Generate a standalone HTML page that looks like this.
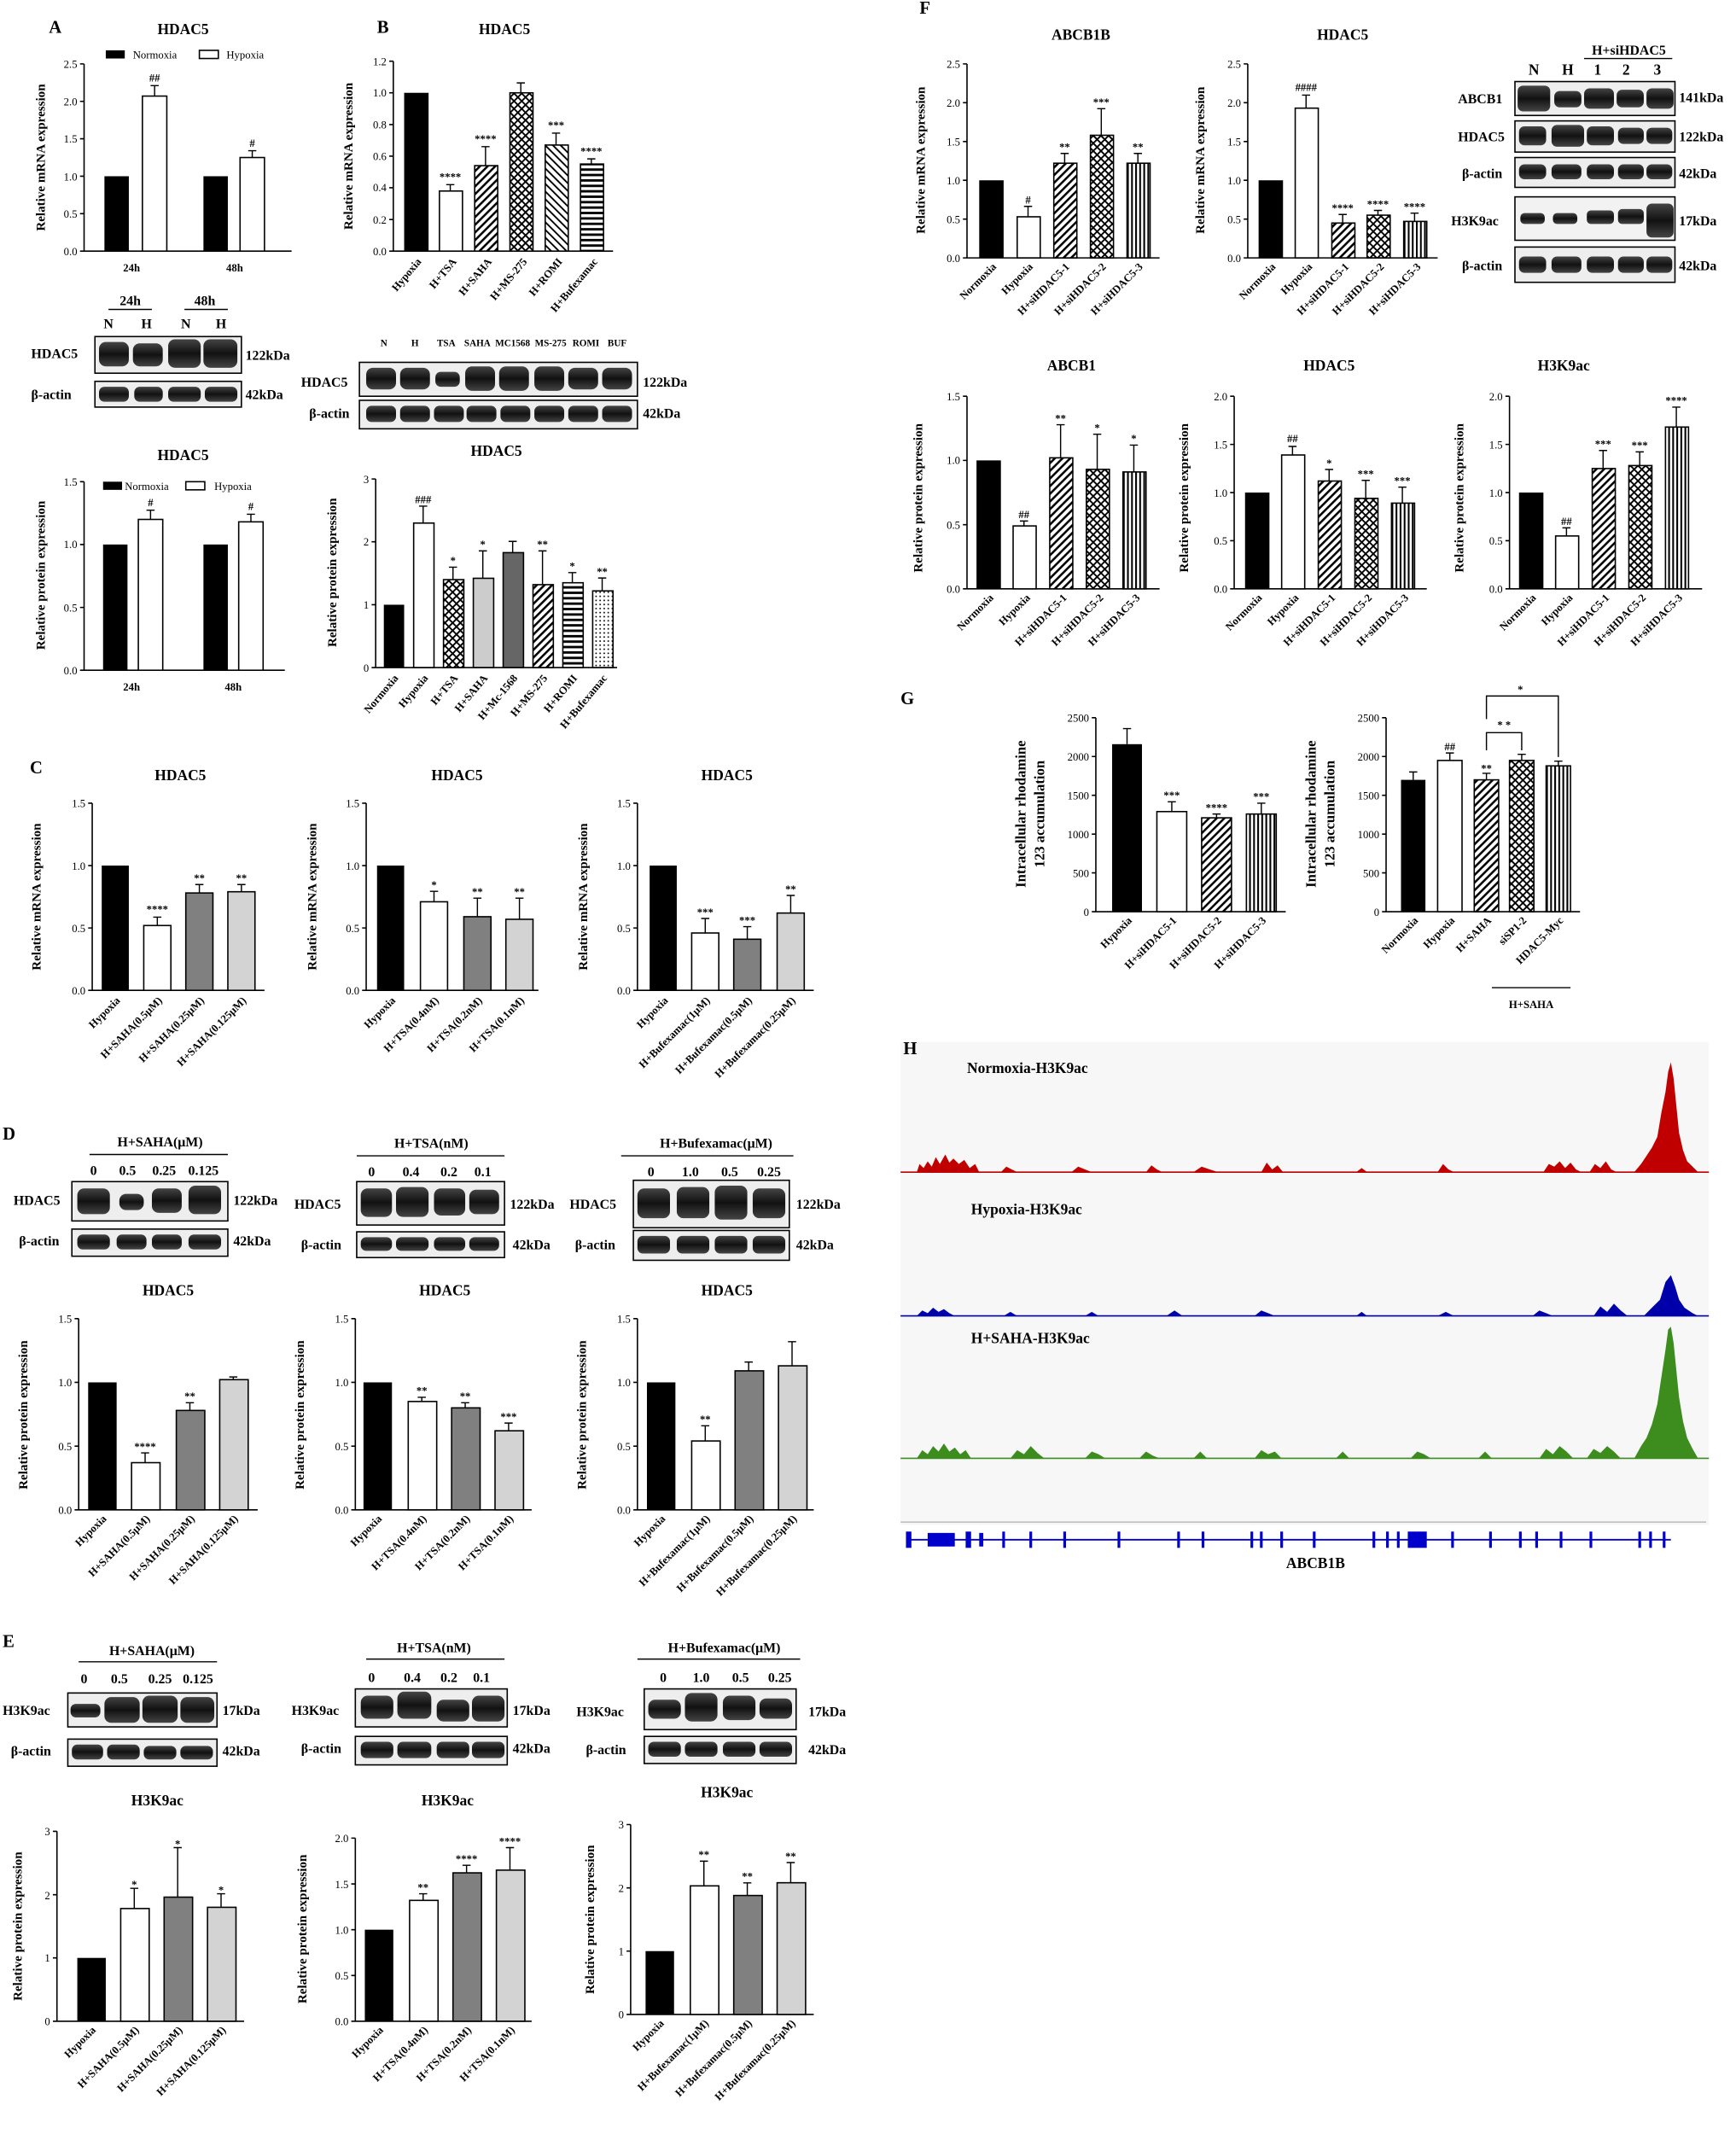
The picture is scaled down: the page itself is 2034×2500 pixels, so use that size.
<!DOCTYPE html>
<html><head><meta charset="utf-8"><style>
html,body{margin:0;padding:0;background:#fff}
svg{display:block}
text{font-family:"Liberation Serif",serif;fill:#000}
.t{font-weight:bold;font-size:11px;text-anchor:middle}
.k{font-size:8px;text-anchor:end}
.yl{font-weight:bold;font-size:9.5px;text-anchor:middle}
.xl{font-weight:bold;font-size:8px;text-anchor:end}
.L{font-weight:bold;font-size:13px}
.s{font-weight:bold;font-size:8px;text-anchor:middle}
.bl{font-weight:bold;font-size:10px}
.ax{stroke:#000;stroke-width:1;fill:none}
.b{stroke:#000;stroke-width:1}
.e{stroke:#000;stroke-width:0.9;fill:none}
</style></head><body>
<svg width="2034" height="2500" viewBox="0 0 1280 1573" xmlns="http://www.w3.org/2000/svg">
<defs>
<pattern id="hd" width="4" height="4" patternUnits="userSpaceOnUse" patternTransform="rotate(45)"><rect width="4" height="4" fill="#fff"/><rect width="1.6" height="4" fill="#000"/></pattern>
<pattern id="hx" width="4" height="4" patternUnits="userSpaceOnUse" patternTransform="rotate(45)"><rect width="4" height="4" fill="#fff"/><rect width="1.2" height="4" fill="#000"/><rect width="4" height="1.2" fill="#000"/></pattern>
<pattern id="hh" width="4" height="4" patternUnits="userSpaceOnUse"><rect width="4" height="4" fill="#fff"/><rect width="4" height="1.8" fill="#000"/></pattern>
<pattern id="hv" width="3" height="3" patternUnits="userSpaceOnUse"><rect width="3" height="3" fill="#fff"/><rect width="1.3" height="3" fill="#000"/></pattern>
<pattern id="hr" width="4" height="4" patternUnits="userSpaceOnUse" patternTransform="rotate(-45)"><rect width="4" height="4" fill="#fff"/><rect width="1.2" height="4" fill="#000"/></pattern>
<pattern id="dt" width="3" height="3" patternUnits="userSpaceOnUse"><rect width="3" height="3" fill="#fff"/><circle cx="1.5" cy="1.5" r="0.6" fill="#000"/></pattern>
<linearGradient id="band" x1="0" x2="0" y1="0" y2="1"><stop offset="0" stop-color="#444"/><stop offset="0.5" stop-color="#111"/><stop offset="1" stop-color="#444"/></linearGradient>
</defs>
<rect width="1280" height="1573" fill="#fff"/>

<!-- ================= A ================= -->
<text x="36" y="24" class="L">A</text>
<text x="135" y="25" class="t">HDAC5</text>
<rect x="78" y="37" width="14" height="6" fill="#000"/><text x="98" y="43" style="font-size:8px">Normoxia</text>
<rect x="147" y="37" width="14" height="6" fill="#fff" class="b"/><text x="167" y="43" style="font-size:8px">Hypoxia</text>
<path class="ax" d="M62 47V185H215M59 47H62M59 74.6H62M59 102.2H62M59 129.8H62M59 157.4H62M59 185H62"/>
<g class="k"><text x="57" y="50">2.5</text><text x="57" y="77.6">2.0</text><text x="57" y="105">1.5</text><text x="57" y="133">1.0</text><text x="57" y="160.4">0.5</text><text x="57" y="188">0.0</text></g>
<text transform="translate(33,116) rotate(-90)" class="yl">Relative mRNA expression</text>
<rect x="77" y="129.8" width="18" height="55.2" fill="#000"/>
<rect x="105" y="70.7" width="18" height="114.3" fill="#fff" class="b"/>
<rect x="150" y="129.8" width="18" height="55.2" fill="#000"/>
<rect x="177" y="116" width="18" height="69" fill="#fff" class="b"/>
<path class="e" d="M114 70.7V63M111 63H117M186 116V111M183 111H189"/>
<text x="114" y="60" class="s">##</text><text x="186" y="108" class="s">#</text>
<text x="97" y="200" class="s">24h</text><text x="173" y="200" class="s">48h</text>

<!-- A blot -->
<text x="96" y="225" class="s" style="font-size:10px">24h</text><text x="151" y="225" class="s" style="font-size:10px">48h</text>
<path class="e" d="M80 228H112M136 228H168"/>
<g class="s" style="font-size:10px"><text x="80" y="242">N</text><text x="108" y="242">H</text><text x="137" y="242">N</text><text x="163" y="242">H</text></g>
<rect x="70" y="248" width="108" height="27" fill="#eee" class="b"/>
<g fill="url(#band)"><rect x="73" y="252" width="22" height="18" rx="5"/><rect x="98" y="253" width="22" height="17" rx="5"/><rect x="124" y="250" width="24" height="21" rx="5"/><rect x="150" y="250" width="25" height="21" rx="5"/></g>
<rect x="70" y="281" width="108" height="19" fill="#eee" class="b"/>
<g fill="url(#band)"><rect x="73" y="285" width="22" height="11" rx="4"/><rect x="99" y="285" width="21" height="11" rx="4"/><rect x="124" y="285" width="24" height="11" rx="4"/><rect x="151" y="285" width="24" height="11" rx="4"/></g>
<text x="23" y="264" class="bl">HDAC5</text><text x="23" y="294" class="bl">β-actin</text>
<text x="181" y="265" class="bl">122kDa</text><text x="181" y="294" class="bl">42kDa</text>

<!-- A bottom -->
<text x="135" y="339" class="t">HDAC5</text>
<rect x="76" y="355" width="14" height="6" fill="#000"/><text x="92" y="361" style="font-size:8px">Normoxia</text>
<rect x="137" y="355" width="14" height="6" fill="#fff" class="b"/><text x="158" y="361" style="font-size:8px">Hypoxia</text>
<path class="ax" d="M62 355V494H210M59 355H62M59 401.3H62M59 447.7H62M59 494H62"/>
<g class="k"><text x="57" y="358">1.5</text><text x="57" y="404">1.0</text><text x="57" y="450.7">0.5</text><text x="57" y="497">0.0</text></g>
<text transform="translate(33,424) rotate(-90)" class="yl">Relative protein expression</text>
<rect x="76" y="401.3" width="18" height="92.7" fill="#000"/>
<rect x="102" y="382.8" width="18" height="111.2" fill="#fff" class="b"/>
<rect x="150" y="401.3" width="18" height="92.7" fill="#000"/>
<rect x="176" y="384.6" width="18" height="109.4" fill="#fff" class="b"/>
<path class="e" d="M111 382.8V376M108 376H114M185 384.6V379M182 379H188"/>
<text x="111" y="373" class="s">#</text><text x="185" y="376" class="s">#</text>
<text x="97" y="509" class="s">24h</text><text x="172" y="509" class="s">48h</text>

<!-- ================= B ================= -->
<text x="278" y="24" class="L">B</text>
<text x="372" y="25" class="t">HDAC5</text>
<path class="ax" d="M290 45V185H452M287 45H290M287 68.3H290M287 91.7H290M287 115H290M287 138.3H290M287 161.7H290M287 185H290"/>
<g class="k"><text x="285" y="48">1.2</text><text x="285" y="71">1.0</text><text x="285" y="94.7">0.8</text><text x="285" y="118">0.6</text><text x="285" y="141">0.4</text><text x="285" y="164.7">0.2</text><text x="285" y="188">0.0</text></g>
<text transform="translate(260,115) rotate(-90)" class="yl">Relative mRNA expression</text>
<rect x="298" y="68.3" width="18" height="116.7" fill="#000"/>
<rect x="324" y="140.7" width="17" height="44.3" fill="#fff" class="b"/>
<rect x="350" y="122" width="17" height="63" fill="url(#hd)" class="b"/>
<rect x="376" y="68.3" width="17" height="116.7" fill="url(#hx)" class="b"/>
<rect x="402" y="106.8" width="17" height="78.2" fill="url(#hr)" class="b"/>
<rect x="428" y="120.8" width="17" height="64.2" fill="url(#hh)" class="b"/>
<path class="e" d="M332 140.7V136M329 136H335M358 122V108M355 108H361M384 68.3V61M381 61H387M410 106.8V98M407 98H413M436 120.8V117M433 117H439"/>
<g class="s"><text x="332" y="133">****</text><text x="358" y="105">****</text><text x="410" y="95">***</text><text x="436" y="114">****</text></g>
<g class="xl"><text transform="translate(311,193) rotate(-50)">Hypoxia</text><text transform="translate(337,193) rotate(-50)">H+TSA</text><text transform="translate(363,193) rotate(-50)">H+SAHA</text><text transform="translate(389,193) rotate(-50)">H+MS-275</text><text transform="translate(415,193) rotate(-50)">H+ROMI</text><text transform="translate(441,193) rotate(-50)">H+Bufexamac</text></g>

<!-- B blot -->
<g class="s" style="font-size:7px"><text x="283" y="255">N</text><text x="306" y="255">H</text><text x="329" y="255">TSA</text><text x="352" y="255">SAHA</text><text x="378" y="255">MC1568</text><text x="406" y="255">MS-275</text><text x="432" y="255">ROMI</text><text x="455" y="255">BUF</text></g>
<rect x="265" y="267" width="205" height="25" fill="#eee" class="b"/>
<g fill="url(#band)"><rect x="270" y="271" width="22" height="16" rx="5"/><rect x="295" y="271" width="22" height="16" rx="5"/><rect x="321" y="274" width="18" height="11" rx="4"/><rect x="343" y="270" width="22" height="18" rx="5"/><rect x="368" y="270" width="22" height="18" rx="5"/><rect x="394" y="270" width="22" height="18" rx="5"/><rect x="419" y="271" width="22" height="16" rx="5"/><rect x="444" y="271" width="22" height="16" rx="5"/></g>
<rect x="265" y="295" width="205" height="21" fill="#eee" class="b"/>
<g fill="url(#band)"><rect x="270" y="299" width="22" height="12" rx="4"/><rect x="295" y="299" width="22" height="12" rx="4"/><rect x="320" y="299" width="22" height="12" rx="4"/><rect x="344" y="299" width="22" height="12" rx="4"/><rect x="369" y="299" width="22" height="12" rx="4"/><rect x="394" y="299" width="22" height="12" rx="4"/><rect x="419" y="299" width="22" height="12" rx="4"/><rect x="444" y="299" width="22" height="12" rx="4"/></g>
<text x="222" y="285" class="bl">HDAC5</text><text x="228" y="308" class="bl">β-actin</text>
<text x="474" y="285" class="bl">122kDa</text><text x="474" y="308" class="bl">42kDa</text>

<!-- B bottom -->
<text x="366" y="336" class="t">HDAC5</text>
<path class="ax" d="M277 353V492H455M274 353H277M274 399.3H277M274 445.7H277M274 492H277"/>
<g class="k"><text x="272" y="356">3</text><text x="272" y="402">2</text><text x="272" y="448.7">1</text><text x="272" y="495">0</text></g>
<text transform="translate(248,422) rotate(-90)" class="yl">Relative protein expression</text>
<rect x="283" y="445.7" width="15" height="46.3" fill="#000"/>
<rect x="305" y="385.5" width="15" height="106.5" fill="#fff" class="b"/>
<rect x="327" y="427.2" width="15" height="64.8" fill="url(#hx)" class="b"/>
<rect x="349" y="426.2" width="15" height="65.8" fill="#ccc" class="b"/>
<rect x="371" y="407.3" width="15" height="84.7" fill="#666" class="b"/>
<rect x="393" y="430.9" width="15" height="61.1" fill="url(#hd)" class="b"/>
<rect x="415" y="429.5" width="15" height="62.5" fill="url(#hh)" class="b"/>
<rect x="437" y="435.5" width="15" height="56.5" fill="url(#dt)" class="b"/>
<path class="e" d="M312 385.5V373M309 373H315M334 427.2V418M331 418H337M356 426.2V406M353 406H359M378 407.3V399M375 399H381M400 430.9V406M397 406H403M422 429.5V422M419 422H425M444 435.5V426M441 426H447"/>
<g class="s"><text x="312" y="371">###</text><text x="334" y="416">*</text><text x="356" y="404">*</text><text x="400" y="404">**</text><text x="422" y="420">*</text><text x="444" y="424">**</text></g>
<g class="xl"><text transform="translate(294,500) rotate(-50)">Normoxia</text><text transform="translate(316,500) rotate(-50)">Hypoxia</text><text transform="translate(338,500) rotate(-50)">H+TSA</text><text transform="translate(360,500) rotate(-50)">H+SAHA</text><text transform="translate(382,500) rotate(-50)">H+Mc-1568</text><text transform="translate(404,500) rotate(-50)">H+MS-275</text><text transform="translate(426,500) rotate(-50)">H+ROMI</text><text transform="translate(448,500) rotate(-50)">H+Bufexamac</text></g>

<!-- ================= C ================= -->
<text x="22" y="570" class="L">C</text>
<text x="133" y="575" class="t">HDAC5</text>
<path class="ax" d="M68 592V730H195M65 592H68M65 638H68M65 684H68M65 730H68"/>
<g class="k"><text x="63" y="595">1.5</text><text x="63" y="641">1.0</text><text x="63" y="687">0.5</text><text x="63" y="733">0.0</text></g>
<text transform="translate(30,661) rotate(-90)" class="yl">Relative mRNA expression</text>
<rect x="75" y="638" width="20" height="92" fill="#000"/>
<rect x="106" y="682.2" width="20" height="47.8" fill="#fff" class="b"/>
<rect x="137" y="658.2" width="20" height="71.8" fill="#808080" class="b"/>
<rect x="168" y="657.3" width="20" height="72.7" fill="#d3d3d3" class="b"/>
<path class="e" d="M116 682.2V676M113 676H119M147 658.2V652M144 652H150M178 657.3V652M175 652H181"/>
<g class="s"><text x="116" y="673">****</text><text x="147" y="650">**</text><text x="178" y="650">**</text></g>
<g class="xl"><text transform="translate(89,738) rotate(-45)">Hypoxia</text><text transform="translate(120,738) rotate(-45)">H+SAHA(0.5μM)</text><text transform="translate(151,738) rotate(-45)">H+SAHA(0.25μM)</text><text transform="translate(182,738) rotate(-45)">H+SAHA(0.125μM)</text></g>
<text x="337" y="575" class="t">HDAC5</text>
<path class="ax" d="M270 592V730H397M267 592H270M267 638H270M267 684H270M267 730H270"/>
<g class="k"><text x="265" y="595">1.5</text><text x="265" y="641">1.0</text><text x="265" y="687">0.5</text><text x="265" y="733">0.0</text></g>
<text transform="translate(233,661) rotate(-90)" class="yl">Relative mRNA expression</text>
<rect x="278" y="638" width="20" height="92" fill="#000"/>
<rect x="310" y="664.7" width="20" height="65.3" fill="#fff" class="b"/>
<rect x="342" y="675.7" width="20" height="54.3" fill="#808080" class="b"/>
<rect x="373" y="677.6" width="20" height="52.4" fill="#d3d3d3" class="b"/>
<path class="e" d="M320 664.7V657M317 657H323M352 675.7V662M349 662H355M383 677.6V662M380 662H386"/>
<g class="s"><text x="320" y="655">*</text><text x="352" y="660">**</text><text x="383" y="660">**</text></g>
<g class="xl"><text transform="translate(292,738) rotate(-45)">Hypoxia</text><text transform="translate(324,738) rotate(-45)">H+TSA(0.4nM)</text><text transform="translate(356,738) rotate(-45)">H+TSA(0.2nM)</text><text transform="translate(387,738) rotate(-45)">H+TSA(0.1nM)</text></g>
<text x="536" y="575" class="t">HDAC5</text>
<path class="ax" d="M470 592V730H600M467 592H470M467 638H470M467 684H470M467 730H470"/>
<g class="k"><text x="465" y="595">1.5</text><text x="465" y="641">1.0</text><text x="465" y="687">0.5</text><text x="465" y="733">0.0</text></g>
<text transform="translate(433,661) rotate(-90)" class="yl">Relative mRNA expression</text>
<rect x="479" y="638" width="20" height="92" fill="#000"/>
<rect x="510" y="687.7" width="20" height="42.3" fill="#fff" class="b"/>
<rect x="541" y="692.3" width="20" height="37.7" fill="#808080" class="b"/>
<rect x="573" y="673" width="20" height="57" fill="#d3d3d3" class="b"/>
<path class="e" d="M520 687.7V677M517 677H523M551 692.3V683M548 683H554M583 673V660M580 660H586"/>
<g class="s"><text x="520" y="675">***</text><text x="551" y="681">***</text><text x="583" y="658">**</text></g>
<g class="xl"><text transform="translate(493,738) rotate(-45)">Hypoxia</text><text transform="translate(524,738) rotate(-45)">H+Bufexamac(1μM)</text><text transform="translate(555,738) rotate(-45)">H+Bufexamac(0.5μM)</text><text transform="translate(587,738) rotate(-45)">H+Bufexamac(0.25μM)</text></g>

<!-- ================= D ================= -->
<text x="2" y="840" class="L">D</text>
<g class="bl" style="text-anchor:middle"><text x="118" y="845">H+SAHA(μM)</text><text x="318" y="846">H+TSA(nM)</text><text x="528" y="846">H+Bufexamac(μM)</text></g>
<path class="e" d="M66 851H168M263 852H372M458 852H585"/>
<g class="s" style="font-size:10px"><text x="69" y="866">0</text><text x="94" y="866">0.5</text><text x="121" y="866">0.25</text><text x="150" y="866">0.125</text><text x="274" y="867">0</text><text x="303" y="867">0.4</text><text x="331" y="867">0.2</text><text x="356" y="867">0.1</text><text x="480" y="867">0</text><text x="509" y="867">1.0</text><text x="538" y="867">0.5</text><text x="567" y="867">0.25</text></g>
<rect x="53" y="871" width="115" height="29" fill="#eee" class="b"/>
<g fill="url(#band)"><rect x="57" y="876" width="24" height="19" rx="5"/><rect x="88" y="880" width="18" height="12" rx="5"/><rect x="112" y="876" width="22" height="18" rx="5"/><rect x="139" y="874" width="24" height="21" rx="5"/></g>
<rect x="53" y="906" width="115" height="20" fill="#eee" class="b"/>
<g fill="url(#band)"><rect x="57" y="910" width="24" height="11" rx="4"/><rect x="86" y="910" width="22" height="11" rx="4"/><rect x="112" y="910" width="22" height="11" rx="4"/><rect x="139" y="910" width="24" height="11" rx="4"/></g>
<text x="10" y="888" class="bl">HDAC5</text><text x="14" y="918" class="bl">β-actin</text>
<text x="172" y="888" class="bl">122kDa</text><text x="172" y="918" class="bl">42kDa</text>
<rect x="263" y="871" width="109" height="32" fill="#eee" class="b"/>
<g fill="url(#band)"><rect x="266" y="876" width="23" height="21" rx="5"/><rect x="292" y="875" width="24" height="22" rx="5"/><rect x="320" y="876" width="23" height="20" rx="5"/><rect x="346" y="877" width="22" height="18" rx="5"/></g>
<rect x="263" y="908" width="109" height="19" fill="#eee" class="b"/>
<g fill="url(#band)"><rect x="266" y="912" width="23" height="10" rx="4"/><rect x="292" y="912" width="24" height="10" rx="4"/><rect x="320" y="912" width="23" height="10" rx="4"/><rect x="346" y="912" width="22" height="10" rx="4"/></g>
<text x="217" y="891" class="bl">HDAC5</text><text x="222" y="921" class="bl">β-actin</text>
<text x="376" y="891" class="bl">122kDa</text><text x="378" y="921" class="bl">42kDa</text>
<rect x="467" y="870" width="115" height="35" fill="#eee" class="b"/>
<g fill="url(#band)"><rect x="470" y="876" width="24" height="22" rx="5"/><rect x="499" y="875" width="24" height="23" rx="5"/><rect x="527" y="874" width="24" height="25" rx="5"/><rect x="555" y="876" width="24" height="22" rx="5"/></g>
<rect x="467" y="907" width="115" height="22" fill="#eee" class="b"/>
<g fill="url(#band)"><rect x="470" y="911" width="24" height="13" rx="4"/><rect x="499" y="911" width="24" height="13" rx="4"/><rect x="527" y="911" width="24" height="13" rx="4"/><rect x="555" y="911" width="24" height="13" rx="4"/></g>
<text x="420" y="891" class="bl">HDAC5</text><text x="424" y="921" class="bl">β-actin</text>
<text x="587" y="891" class="bl">122kDa</text><text x="587" y="921" class="bl">42kDa</text>

<text x="124" y="955" class="t">HDAC5</text>
<path class="ax" d="M58 972V1113H190M55 972H58M55 1019H58M55 1066H58M55 1113H58"/>
<g class="k"><text x="53" y="975">1.5</text><text x="53" y="1022">1.0</text><text x="53" y="1069">0.5</text><text x="53" y="1116">0.0</text></g>
<text transform="translate(20,1043) rotate(-90)" class="yl">Relative protein expression</text>
<rect x="65" y="1019" width="21" height="94" fill="#000"/>
<rect x="97" y="1078.2" width="21" height="34.8" fill="#fff" class="b"/>
<rect x="130" y="1039.7" width="21" height="73.3" fill="#808080" class="b"/>
<rect x="162" y="1017" width="21" height="96" fill="#d3d3d3" class="b"/>
<path class="e" d="M107 1078.2V1071M104 1071H110M140 1039.7V1034M137 1034H143M172 1017V1015M169 1015H175"/>
<g class="s"><text x="107" y="1069">****</text><text x="140" y="1032">**</text></g>
<g class="xl"><text transform="translate(79,1120) rotate(-45)">Hypoxia</text><text transform="translate(111,1120) rotate(-45)">H+SAHA(0.5μM)</text><text transform="translate(144,1120) rotate(-45)">H+SAHA(0.25μM)</text><text transform="translate(176,1120) rotate(-45)">H+SAHA(0.125μM)</text></g>
<text x="328" y="955" class="t">HDAC5</text>
<path class="ax" d="M262 972V1113H392M259 972H262M259 1019H262M259 1066H262M259 1113H262"/>
<g class="k"><text x="257" y="975">1.5</text><text x="257" y="1022">1.0</text><text x="257" y="1069">0.5</text><text x="257" y="1116">0.0</text></g>
<text transform="translate(224,1043) rotate(-90)" class="yl">Relative protein expression</text>
<rect x="268" y="1019" width="21" height="94" fill="#000"/>
<rect x="301" y="1033.1" width="21" height="79.9" fill="#fff" class="b"/>
<rect x="333" y="1037.8" width="21" height="75.2" fill="#808080" class="b"/>
<rect x="365" y="1054.7" width="21" height="58.3" fill="#d3d3d3" class="b"/>
<path class="e" d="M311 1033.1V1030M308 1030H314M343 1037.8V1034M340 1034H346M375 1054.7V1049M372 1049H378"/>
<g class="s"><text x="311" y="1028">**</text><text x="343" y="1032">**</text><text x="375" y="1047">***</text></g>
<g class="xl"><text transform="translate(282,1120) rotate(-45)">Hypoxia</text><text transform="translate(315,1120) rotate(-45)">H+TSA(0.4nM)</text><text transform="translate(347,1120) rotate(-45)">H+TSA(0.2nM)</text><text transform="translate(379,1120) rotate(-45)">H+TSA(0.1nM)</text></g>
<text x="536" y="955" class="t">HDAC5</text>
<path class="ax" d="M470 972V1113H600M467 972H470M467 1019H470M467 1066H470M467 1113H470"/>
<g class="k"><text x="465" y="975">1.5</text><text x="465" y="1022">1.0</text><text x="465" y="1069">0.5</text><text x="465" y="1116">0.0</text></g>
<text transform="translate(432,1043) rotate(-90)" class="yl">Relative protein expression</text>
<rect x="477" y="1019" width="21" height="94" fill="#000"/>
<rect x="510" y="1062.2" width="21" height="50.8" fill="#fff" class="b"/>
<rect x="542" y="1010.5" width="21" height="102.5" fill="#808080" class="b"/>
<rect x="574" y="1006.8" width="21" height="106.2" fill="#d3d3d3" class="b"/>
<path class="e" d="M520 1062.2V1051M517 1051H523M552 1010.5V1004M549 1004H555M584 1006.8V989M581 989H587"/>
<g class="s"><text x="520" y="1049">**</text></g>
<g class="xl"><text transform="translate(491,1120) rotate(-45)">Hypoxia</text><text transform="translate(524,1120) rotate(-45)">H+Bufexamac(1μM)</text><text transform="translate(556,1120) rotate(-45)">H+Bufexamac(0.5μM)</text><text transform="translate(588,1120) rotate(-45)">H+Bufexamac(0.25μM)</text></g>

<!-- ================= E ================= -->
<text x="2" y="1214" class="L">E</text>
<g class="bl" style="text-anchor:middle"><text x="112" y="1220">H+SAHA(μM)</text><text x="320" y="1218">H+TSA(nM)</text><text x="534" y="1218">H+Bufexamac(μM)</text></g>
<path class="e" d="M58 1225H160M270 1223H372M470 1223H590"/>
<g class="s" style="font-size:10px"><text x="62" y="1241">0</text><text x="88" y="1241">0.5</text><text x="118" y="1241">0.25</text><text x="146" y="1241">0.125</text><text x="274" y="1240">0</text><text x="304" y="1240">0.4</text><text x="331" y="1240">0.2</text><text x="355" y="1240">0.1</text><text x="489" y="1240">0</text><text x="517" y="1240">1.0</text><text x="546" y="1240">0.5</text><text x="575" y="1240">0.25</text></g>
<rect x="50" y="1248" width="110" height="25" fill="#eee" class="b"/>
<g fill="url(#band)"><rect x="52" y="1256" width="22" height="10" rx="4"/><rect x="77" y="1251" width="26" height="19" rx="5"/><rect x="105" y="1250" width="26" height="20" rx="5"/><rect x="133" y="1251" width="25" height="19" rx="5"/></g>
<rect x="50" y="1282" width="110" height="20" fill="#eee" class="b"/>
<g fill="url(#band)"><rect x="53" y="1286" width="23" height="11" rx="4"/><rect x="79" y="1286" width="24" height="11" rx="4"/><rect x="106" y="1287" width="24" height="10" rx="4"/><rect x="133" y="1287" width="24" height="10" rx="4"/></g>
<text x="2" y="1264" class="bl">H3K9ac</text><text x="8" y="1294" class="bl">β-actin</text>
<text x="164" y="1264" class="bl">17kDa</text><text x="164" y="1294" class="bl">42kDa</text>
<rect x="262" y="1245" width="112" height="28" fill="#eee" class="b"/>
<g fill="url(#band)"><rect x="266" y="1250" width="24" height="17" rx="5"/><rect x="293" y="1247" width="25" height="20" rx="5"/><rect x="322" y="1253" width="24" height="16" rx="5"/><rect x="348" y="1250" width="24" height="19" rx="5"/></g>
<rect x="262" y="1280" width="112" height="21" fill="#eee" class="b"/>
<g fill="url(#band)"><rect x="266" y="1284" width="24" height="12" rx="4"/><rect x="293" y="1284" width="25" height="12" rx="4"/><rect x="322" y="1284" width="24" height="12" rx="4"/><rect x="348" y="1284" width="24" height="12" rx="4"/></g>
<text x="215" y="1264" class="bl">H3K9ac</text><text x="222" y="1292" class="bl">β-actin</text>
<text x="378" y="1264" class="bl">17kDa</text><text x="378" y="1292" class="bl">42kDa</text>
<rect x="475" y="1245" width="112" height="30" fill="#eee" class="b"/>
<g fill="url(#band)"><rect x="478" y="1253" width="24" height="14" rx="5"/><rect x="505" y="1248" width="24" height="21" rx="5"/><rect x="533" y="1250" width="24" height="18" rx="5"/><rect x="560" y="1252" width="24" height="15" rx="5"/></g>
<rect x="475" y="1280" width="112" height="20" fill="#eee" class="b"/>
<g fill="url(#band)"><rect x="478" y="1284" width="24" height="11" rx="4"/><rect x="505" y="1284" width="24" height="11" rx="4"/><rect x="533" y="1284" width="24" height="11" rx="4"/><rect x="560" y="1284" width="24" height="11" rx="4"/></g>
<text x="425" y="1265" class="bl">H3K9ac</text><text x="432" y="1293" class="bl">β-actin</text>
<text x="596" y="1265" class="bl">17kDa</text><text x="596" y="1293" class="bl">42kDa</text>

<text x="116" y="1331" class="t">H3K9ac</text>
<path class="ax" d="M42 1350V1490H180M39 1350H42M39 1396.7H42M39 1443.3H42M39 1490H42"/>
<g class="k"><text x="37" y="1353">3</text><text x="37" y="1400">2</text><text x="37" y="1446">1</text><text x="37" y="1493">0</text></g>
<text transform="translate(16,1420) rotate(-90)" class="yl">Relative protein expression</text>
<rect x="57" y="1443.3" width="21" height="46.7" fill="#000"/>
<rect x="89" y="1406.9" width="21" height="83.1" fill="#fff" class="b"/>
<rect x="121" y="1398.5" width="21" height="91.5" fill="#808080" class="b"/>
<rect x="153" y="1406" width="21" height="84" fill="#d3d3d3" class="b"/>
<path class="e" d="M99 1406.9V1392M96 1392H102M131 1398.5V1362M128 1362H134M163 1406V1396M160 1396H166"/>
<g class="s"><text x="99" y="1392">*</text><text x="131" y="1362">*</text><text x="163" y="1396">*</text></g>
<g class="xl"><text transform="translate(71,1497) rotate(-45)">Hypoxia</text><text transform="translate(103,1497) rotate(-45)">H+SAHA(0.5μM)</text><text transform="translate(135,1497) rotate(-45)">H+SAHA(0.25μM)</text><text transform="translate(167,1497) rotate(-45)">H+SAHA(0.125μM)</text></g>
<text x="330" y="1331" class="t">H3K9ac</text>
<path class="ax" d="M262 1355V1490H392M259 1355H262M259 1388.8H262M259 1422.5H262M259 1456.3H262M259 1490H262"/>
<g class="k"><text x="257" y="1358">2.0</text><text x="257" y="1391.8">1.5</text><text x="257" y="1425.5">1.0</text><text x="257" y="1459.3">0.5</text><text x="257" y="1493">0.0</text></g>
<text transform="translate(226,1422) rotate(-90)" class="yl">Relative protein expression</text>
<rect x="269" y="1422.5" width="21" height="67.5" fill="#000"/>
<rect x="302" y="1400.9" width="21" height="89.1" fill="#fff" class="b"/>
<rect x="334" y="1380.6" width="21" height="109.4" fill="#808080" class="b"/>
<rect x="366" y="1378.6" width="21" height="111.4" fill="#d3d3d3" class="b"/>
<path class="e" d="M312 1400.9V1396M309 1396H315M344 1380.6V1375M341 1375H347M376 1378.6V1362M373 1362H379"/>
<g class="s"><text x="312" y="1394">**</text><text x="344" y="1373">****</text><text x="376" y="1360">****</text></g>
<g class="xl"><text transform="translate(283,1497) rotate(-45)">Hypoxia</text><text transform="translate(316,1497) rotate(-45)">H+TSA(0.4nM)</text><text transform="translate(348,1497) rotate(-45)">H+TSA(0.2nM)</text><text transform="translate(380,1497) rotate(-45)">H+TSA(0.1nM)</text></g>
<text x="536" y="1325" class="t">H3K9ac</text>
<path class="ax" d="M465 1345V1485H600M462 1345H465M462 1391.7H465M462 1438.3H465M462 1485H465"/>
<g class="k"><text x="460" y="1348">3</text><text x="460" y="1394.7">2</text><text x="460" y="1441.3">1</text><text x="460" y="1488">0</text></g>
<text transform="translate(438,1415) rotate(-90)" class="yl">Relative protein expression</text>
<rect x="476" y="1438.3" width="21" height="46.7" fill="#000"/>
<rect x="509" y="1390.2" width="21" height="94.8" fill="#fff" class="b"/>
<rect x="541" y="1397.3" width="21" height="87.7" fill="#808080" class="b"/>
<rect x="573" y="1387.9" width="21" height="97.1" fill="#d3d3d3" class="b"/>
<path class="e" d="M519 1390.2V1372M516 1372H522M551 1397.3V1388M548 1388H554M583 1387.9V1373M580 1373H586"/>
<g class="s"><text x="519" y="1370">**</text><text x="551" y="1386">**</text><text x="583" y="1371">**</text></g>
<g class="xl"><text transform="translate(490,1492) rotate(-45)">Hypoxia</text><text transform="translate(523,1492) rotate(-45)">H+Bufexamac(1μM)</text><text transform="translate(555,1492) rotate(-45)">H+Bufexamac(0.5μM)</text><text transform="translate(587,1492) rotate(-45)">H+Bufexamac(0.25μM)</text></g>

<!-- ================= F ================= -->
<text x="678" y="10" class="L">F</text>
<text x="797" y="29" class="t">ABCB1B</text>
<path class="ax" d="M713 47V190H855M710 47H713M710 75.6H713M710 104.2H713M710 132.8H713M710 161.4H713M710 190H713"/>
<g class="k"><text x="708" y="50">2.5</text><text x="708" y="78.6">2.0</text><text x="708" y="107.2">1.5</text><text x="708" y="135.8">1.0</text><text x="708" y="164.4">0.5</text><text x="708" y="193">0.0</text></g>
<text transform="translate(682,118) rotate(-90)" class="yl">Relative mRNA expression</text>
<rect x="722" y="132.8" width="18" height="57.2" fill="#000"/>
<rect x="750" y="159.7" width="17" height="30.3" fill="#fff" class="b"/>
<rect x="777" y="120.2" width="17" height="69.8" fill="url(#hd)" class="b"/>
<rect x="804" y="99.6" width="17" height="90.4" fill="url(#hx)" class="b"/>
<rect x="831" y="120.2" width="17" height="69.8" fill="url(#hv)" class="b"/>
<path class="e" d="M758 159.7V152M755 152H761M785 120.2V113M782 113H788M812 99.6V80M809 80H815M839 120.2V113M836 113H842"/>
<g class="s"><text x="758" y="150">#</text><text x="785" y="111">**</text><text x="812" y="78">***</text><text x="839" y="111">**</text></g>
<g class="xl"><text transform="translate(735,197) rotate(-45)">Normoxia</text><text transform="translate(762,197) rotate(-45)">Hypoxia</text><text transform="translate(789,197) rotate(-45)">H+siHDAC5-1</text><text transform="translate(816,197) rotate(-45)">H+siHDAC5-2</text><text transform="translate(843,197) rotate(-45)">H+siHDAC5-3</text></g>

<text x="990" y="29" class="t">HDAC5</text>
<path class="ax" d="M920 47V190H1060M917 47H920M917 75.6H920M917 104.2H920M917 132.8H920M917 161.4H920M917 190H920"/>
<g class="k"><text x="915" y="50">2.5</text><text x="915" y="78.6">2.0</text><text x="915" y="107.2">1.5</text><text x="915" y="135.8">1.0</text><text x="915" y="164.4">0.5</text><text x="915" y="193">0.0</text></g>
<text transform="translate(888,118) rotate(-90)" class="yl">Relative mRNA expression</text>
<rect x="928" y="132.8" width="18" height="57.2" fill="#000"/>
<rect x="955" y="79.6" width="17" height="110.4" fill="#fff" class="b"/>
<rect x="982" y="164.3" width="17" height="25.7" fill="url(#hd)" class="b"/>
<rect x="1008" y="158.5" width="17" height="31.5" fill="url(#hx)" class="b"/>
<rect x="1035" y="163.1" width="17" height="26.9" fill="url(#hv)" class="b"/>
<path class="e" d="M963 79.6V70M960 70H966M990 164.3V158M987 158H993M1016 158.5V155M1013 155H1019M1043 163.1V157M1040 157H1046"/>
<g class="s"><text x="963" y="67">####</text><text x="990" y="156">****</text><text x="1016" y="153">****</text><text x="1043" y="155">****</text></g>
<g class="xl"><text transform="translate(941,197) rotate(-45)">Normoxia</text><text transform="translate(968,197) rotate(-45)">Hypoxia</text><text transform="translate(995,197) rotate(-45)">H+siHDAC5-1</text><text transform="translate(1021,197) rotate(-45)">H+siHDAC5-2</text><text transform="translate(1048,197) rotate(-45)">H+siHDAC5-3</text></g>

<text x="1201" y="40" class="bl" style="text-anchor:middle">H+siHDAC5</text>
<path class="e" d="M1168 43H1233"/>
<g class="s" style="font-size:11px"><text x="1131" y="55">N</text><text x="1156" y="55">H</text><text x="1178" y="55">1</text><text x="1199" y="55">2</text><text x="1222" y="55">3</text></g>
<rect x="1117" y="60" width="118" height="25" fill="#eee" class="b"/>
<g fill="url(#band)"><rect x="1119" y="63" width="24" height="19" rx="4"/><rect x="1146" y="67" width="20" height="12" rx="4"/><rect x="1168" y="65" width="22" height="15" rx="4"/><rect x="1192" y="66" width="20" height="13" rx="4"/><rect x="1214" y="65" width="20" height="15" rx="4"/></g>
<rect x="1117" y="89" width="118" height="23" fill="#eee" class="b"/>
<g fill="url(#band)"><rect x="1120" y="93" width="20" height="14" rx="4"/><rect x="1144" y="92" width="24" height="16" rx="4"/><rect x="1170" y="93" width="20" height="14" rx="4"/><rect x="1193" y="94" width="19" height="12" rx="4"/><rect x="1214" y="94" width="19" height="12" rx="4"/></g>
<rect x="1117" y="116" width="118" height="22" fill="#eee" class="b"/>
<g fill="url(#band)"><rect x="1120" y="121" width="20" height="11" rx="4"/><rect x="1144" y="121" width="22" height="11" rx="4"/><rect x="1170" y="121" width="20" height="11" rx="4"/><rect x="1193" y="121" width="19" height="11" rx="4"/><rect x="1214" y="121" width="19" height="11" rx="4"/></g>
<rect x="1117" y="145" width="118" height="32" fill="#f2f2f2" class="b"/>
<g fill="url(#band)"><rect x="1121" y="157" width="18" height="8" rx="3"/><rect x="1145" y="157" width="18" height="8" rx="3"/><rect x="1170" y="155" width="20" height="10" rx="3"/><rect x="1193" y="154" width="19" height="11" rx="3"/><rect x="1214" y="150" width="20" height="25" rx="4"/></g>
<rect x="1117" y="182" width="118" height="26" fill="#eee" class="b"/>
<g fill="url(#band)"><rect x="1120" y="189" width="20" height="12" rx="4"/><rect x="1144" y="189" width="22" height="12" rx="4"/><rect x="1170" y="189" width="20" height="12" rx="4"/><rect x="1193" y="189" width="19" height="12" rx="4"/><rect x="1214" y="189" width="19" height="12" rx="4"/></g>
<g class="bl"><text x="1075" y="76">ABCB1</text><text x="1075" y="104">HDAC5</text><text x="1078" y="131">β-actin</text><text x="1070" y="166">H3K9ac</text><text x="1078" y="199">β-actin</text></g>
<g class="bl"><text x="1238" y="75">141kDa</text><text x="1238" y="104">122kDa</text><text x="1238" y="131">42kDa</text><text x="1238" y="166">17kDa</text><text x="1238" y="199">42kDa</text></g>

<text x="790" y="273" class="t">ABCB1</text>
<path class="ax" d="M713 292V434H855M710 292H713M710 339.3H713M710 386.7H713M710 434H713"/>
<g class="k"><text x="708" y="295">1.5</text><text x="708" y="342">1.0</text><text x="708" y="389.7">0.5</text><text x="708" y="437">0.0</text></g>
<text transform="translate(680,367) rotate(-90)" class="yl">Relative protein expression</text>
<rect x="720" y="339.3" width="18" height="94.7" fill="#000"/>
<rect x="747" y="387.6" width="17" height="46.4" fill="#fff" class="b"/>
<rect x="774" y="337.4" width="17" height="96.6" fill="url(#hd)" class="b"/>
<rect x="801" y="345.9" width="17" height="88.1" fill="url(#hx)" class="b"/>
<rect x="828" y="347.8" width="17" height="86.2" fill="url(#hv)" class="b"/>
<path class="e" d="M755 387.6V384M752 384H758M782 337.4V313M779 313H785M809 345.9V320M806 320H812M836 347.8V328M833 328H839"/>
<g class="s"><text x="755" y="382">##</text><text x="782" y="311">**</text><text x="809" y="318">*</text><text x="836" y="326">*</text></g>
<g class="xl"><text transform="translate(733,441) rotate(-45)">Normoxia</text><text transform="translate(760,441) rotate(-45)">Hypoxia</text><text transform="translate(787,441) rotate(-45)">H+siHDAC5-1</text><text transform="translate(814,441) rotate(-45)">H+siHDAC5-2</text><text transform="translate(841,441) rotate(-45)">H+siHDAC5-3</text></g>

<text x="980" y="273" class="t">HDAC5</text>
<path class="ax" d="M910 292V434H1052M907 292H910M907 327.5H910M907 363H910M907 398.5H910M907 434H910"/>
<g class="k"><text x="905" y="295">2.0</text><text x="905" y="330.5">1.5</text><text x="905" y="366">1.0</text><text x="905" y="401.5">0.5</text><text x="905" y="437">0.0</text></g>
<text transform="translate(876,367) rotate(-90)" class="yl">Relative protein expression</text>
<rect x="918" y="363" width="18" height="71" fill="#000"/>
<rect x="945" y="335.3" width="17" height="98.7" fill="#fff" class="b"/>
<rect x="972" y="354.5" width="17" height="79.5" fill="url(#hd)" class="b"/>
<rect x="999" y="367.3" width="17" height="66.7" fill="url(#hx)" class="b"/>
<rect x="1026" y="370.8" width="17" height="63.2" fill="url(#hv)" class="b"/>
<path class="e" d="M953 335.3V329M950 329H956M980 354.5V346M977 346H983M1007 367.3V354M1004 354H1010M1034 370.8V359M1031 359H1037"/>
<g class="s"><text x="953" y="326">##</text><text x="980" y="344">*</text><text x="1007" y="352">***</text><text x="1034" y="357">***</text></g>
<g class="xl"><text transform="translate(931,441) rotate(-45)">Normoxia</text><text transform="translate(958,441) rotate(-45)">Hypoxia</text><text transform="translate(985,441) rotate(-45)">H+siHDAC5-1</text><text transform="translate(1012,441) rotate(-45)">H+siHDAC5-2</text><text transform="translate(1039,441) rotate(-45)">H+siHDAC5-3</text></g>

<text x="1153" y="273" class="t">H3K9ac</text>
<path class="ax" d="M1113 292V434H1255M1110 292H1113M1110 327.5H1113M1110 363H1113M1110 398.5H1113M1110 434H1113"/>
<g class="k"><text x="1108" y="295">2.0</text><text x="1108" y="330.5">1.5</text><text x="1108" y="366">1.0</text><text x="1108" y="401.5">0.5</text><text x="1108" y="437">0.0</text></g>
<text transform="translate(1079,367) rotate(-90)" class="yl">Relative protein expression</text>
<rect x="1120" y="363" width="18" height="71" fill="#000"/>
<rect x="1147" y="395" width="17" height="39" fill="#fff" class="b"/>
<rect x="1174" y="345.3" width="17" height="88.7" fill="url(#hd)" class="b"/>
<rect x="1201" y="343.1" width="17" height="90.9" fill="url(#hx)" class="b"/>
<rect x="1228" y="314.7" width="17" height="119.3" fill="url(#hv)" class="b"/>
<path class="e" d="M1155 395V389M1152 389H1158M1182 345.3V332M1179 332H1185M1209 343.1V333M1206 333H1212M1236 314.7V300M1233 300H1239"/>
<g class="s"><text x="1155" y="387">##</text><text x="1182" y="330">***</text><text x="1209" y="331">***</text><text x="1236" y="298">****</text></g>
<g class="xl"><text transform="translate(1133,441) rotate(-45)">Normoxia</text><text transform="translate(1160,441) rotate(-45)">Hypoxia</text><text transform="translate(1187,441) rotate(-45)">H+siHDAC5-1</text><text transform="translate(1214,441) rotate(-45)">H+siHDAC5-2</text><text transform="translate(1241,441) rotate(-45)">H+siHDAC5-3</text></g>

<!-- ================= G ================= -->
<text x="664" y="519" class="L">G</text>
<path class="ax" d="M808 529V672H948M805 529H808M805 557.6H808M805 586.2H808M805 614.8H808M805 643.4H808M805 672H808"/>
<g class="k"><text x="803" y="532">2500</text><text x="803" y="560.6">2000</text><text x="803" y="589.2">1500</text><text x="803" y="617.8">1000</text><text x="803" y="646.4">500</text><text x="803" y="675">0</text></g>
<text transform="translate(756,600) rotate(-90)" class="yl" style="font-size:10.5px">Intracellular rhodamine</text>
<text transform="translate(770,600) rotate(-90)" class="yl" style="font-size:10.5px">123 accumulation</text>
<rect x="820" y="548.5" width="22" height="123.5" fill="#000"/>
<rect x="853" y="598.2" width="22" height="73.8" fill="#fff" class="b"/>
<rect x="886" y="602.8" width="22" height="69.2" fill="url(#hd)" class="b"/>
<rect x="919" y="600" width="22" height="72" fill="url(#hv)" class="b"/>
<path class="e" d="M831 548.5V537M828 537H834M864 598.2V591M861 591H867M897 602.8V600M894 600H900M930 600V592M927 592H933"/>
<g class="s"><text x="864" y="589">***</text><text x="897" y="598">****</text><text x="930" y="590">***</text></g>
<g class="xl"><text transform="translate(835,679) rotate(-45)">Hypoxia</text><text transform="translate(868,679) rotate(-45)">H+siHDAC5-1</text><text transform="translate(901,679) rotate(-45)">H+siHDAC5-2</text><text transform="translate(934,679) rotate(-45)">H+siHDAC5-3</text></g>

<path class="ax" d="M1022 529V672H1165M1019 529H1022M1019 557.6H1022M1019 586.2H1022M1019 614.8H1022M1019 643.4H1022M1019 672H1022"/>
<g class="k"><text x="1017" y="532">2500</text><text x="1017" y="560.6">2000</text><text x="1017" y="589.2">1500</text><text x="1017" y="617.8">1000</text><text x="1017" y="646.4">500</text><text x="1017" y="675">0</text></g>
<text transform="translate(970,600) rotate(-90)" class="yl" style="font-size:10.5px">Intracellular rhodamine</text>
<text transform="translate(984,600) rotate(-90)" class="yl" style="font-size:10.5px">123 accumulation</text>
<rect x="1033" y="574.8" width="18" height="97.2" fill="#000"/>
<rect x="1060" y="560.5" width="18" height="111.5" fill="#fff" class="b"/>
<rect x="1087" y="574.8" width="18" height="97.2" fill="url(#hd)" class="b"/>
<rect x="1113" y="560.5" width="18" height="111.5" fill="url(#hx)" class="b"/>
<rect x="1140" y="564.5" width="18" height="107.5" fill="url(#hv)" class="b"/>
<path class="e" d="M1042 574.8V569M1039 569H1045M1069 560.5V555M1066 555H1072M1096 574.8V570M1093 570H1099M1122 560.5V556M1119 556H1125M1149 564.5V561M1146 561H1152"/>
<g class="s"><text x="1069" y="553">##</text><text x="1096" y="569">**</text></g>
<path class="e" d="M1096 553V540H1122V553M1096 530V513H1149V558"/>
<g class="s"><text x="1109" y="537">* *</text><text x="1121" y="511">*</text></g>
<g class="xl"><text transform="translate(1046,679) rotate(-45)">Normoxia</text><text transform="translate(1073,679) rotate(-45)">Hypoxia</text><text transform="translate(1100,679) rotate(-45)">H+SAHA</text><text transform="translate(1126,679) rotate(-45)">siSP1-2</text><text transform="translate(1153,679) rotate(-45)">HDAC5-Myc</text></g>
<path class="e" d="M1100 728H1158"/>
<text x="1129" y="743" class="s">H+SAHA</text>

<!-- ================= H ================= -->
<rect x="664" y="768" width="596" height="356" fill="#f7f7f7"/>
<text x="666" y="777" class="L">H</text>
<text x="713" y="791" class="bl" style="font-size:11px">Normoxia-H3K9ac</text>
<text x="716" y="895" class="bl" style="font-size:11px">Hypoxia-H3K9ac</text>
<text x="716" y="990" class="bl" style="font-size:11px">H+SAHA-H3K9ac</text>
<path d="M664 864H1260" stroke="#c00000" stroke-width="1"/>
<path fill="#c00000" d="M676 864L678 858L681 861L684 856L687 860L690 853L693 858L697 851L700 857L703 854L707 858L711 855L715 861L719 858L722 864ZM738 864L742 860L746 862L750 864ZM790 864L795 860L800 862L805 864ZM845 864L849 859L853 862L857 864ZM880 864L886 860L892 862L898 864ZM930 864L934 857L938 862L942 859L946 864ZM1000 864L1004 861L1008 864ZM1060 864L1064 858L1068 862L1072 864ZM1138 864L1142 858L1146 860L1150 856L1154 861L1158 857L1162 862L1166 864ZM1172 864L1176 858L1180 861L1184 856L1188 862L1192 864ZM1205 864L1210 858L1214 852L1218 846L1222 838L1225 820L1228 805L1230 790L1232 783L1234 795L1236 815L1238 835L1241 848L1244 856L1248 860L1252 864Z"/>
<path d="M664 970H1260" stroke="#0000aa" stroke-width="1"/>
<path fill="#0000aa" d="M676 970L680 966L684 968L688 964L692 967L696 965L700 968L704 970ZM740 970L745 967L750 970ZM800 970L805 967L810 970ZM860 970L866 966L872 970ZM925 970L930 966L935 968L940 970ZM1000 970L1004 967L1008 970ZM1060 970L1066 967L1072 970ZM1130 970L1135 966L1140 968L1145 970ZM1175 970L1180 963L1185 967L1190 961L1195 966L1200 970ZM1212 970L1218 964L1224 958L1228 945L1232 940L1235 948L1238 958L1242 964L1248 968L1252 970Z"/>
<path d="M664 1075H1260" stroke="#3c8c1e" stroke-width="1"/>
<path fill="#3c8c1e" d="M676 1075L680 1069L684 1072L688 1066L692 1070L696 1064L700 1070L704 1067L708 1072L712 1069L716 1075ZM745 1075L750 1069L755 1072L760 1066L765 1071L770 1075ZM800 1075L805 1070L810 1072L815 1075ZM840 1075L845 1070L850 1073L855 1075ZM880 1075L885 1070L890 1075ZM925 1075L930 1069L935 1072L940 1070L945 1075ZM985 1075L990 1070L995 1075ZM1040 1075L1045 1070L1050 1072L1055 1075ZM1090 1075L1095 1070L1100 1075ZM1135 1075L1140 1068L1145 1072L1150 1066L1155 1070L1160 1075ZM1170 1075L1175 1068L1180 1071L1185 1066L1190 1070L1195 1075ZM1205 1075L1210 1066L1214 1060L1218 1050L1222 1035L1225 1015L1228 995L1230 980L1232 978L1234 990L1236 1010L1238 1030L1241 1048L1244 1060L1248 1068L1252 1075Z"/>
<path d="M664 1122H1258" stroke="#bbb" stroke-width="1"/>
<path d="M668 1135H1232" stroke="#0000cc" stroke-width="1.2"/>
<g fill="#0000cc"><rect x="668" y="1129" width="4" height="12"/><rect x="684" y="1130" width="20" height="10"/><rect x="712" y="1129" width="4" height="12"/><rect x="722" y="1130" width="3" height="10"/><rect x="739" y="1129" width="2" height="12"/><rect x="759" y="1129" width="2" height="12"/><rect x="784" y="1129" width="2" height="12"/><rect x="824" y="1129" width="2" height="12"/><rect x="868" y="1129" width="2" height="12"/><rect x="886" y="1129" width="2" height="12"/><rect x="922" y="1129" width="2" height="12"/><rect x="929" y="1129" width="2" height="12"/><rect x="944" y="1129" width="2" height="12"/><rect x="968" y="1129" width="2" height="12"/><rect x="1012" y="1129" width="2" height="12"/><rect x="1022" y="1129" width="2" height="12"/><rect x="1030" y="1129" width="2" height="12"/><rect x="1038" y="1129" width="14" height="12"/><rect x="1070" y="1129" width="2" height="12"/><rect x="1098" y="1129" width="2" height="12"/><rect x="1120" y="1129" width="2" height="12"/><rect x="1132" y="1129" width="2" height="12"/><rect x="1150" y="1129" width="2" height="12"/><rect x="1172" y="1129" width="2" height="12"/><rect x="1208" y="1129" width="2" height="12"/><rect x="1216" y="1129" width="2" height="12"/><rect x="1226" y="1129" width="2" height="12"/></g>
<text x="970" y="1156" class="bl" style="text-anchor:middle;font-size:11px">ABCB1B</text>
</svg>
</body></html>
